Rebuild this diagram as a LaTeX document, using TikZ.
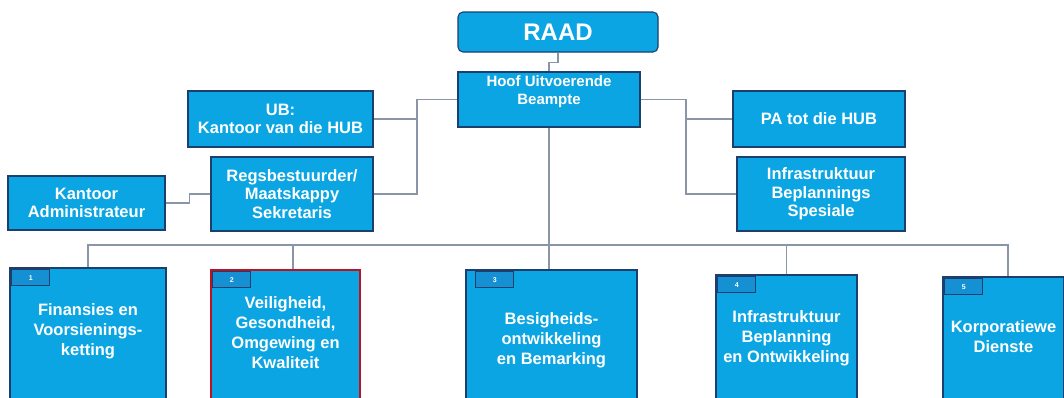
\documentclass[tikz,border=0pt]{standalone}
\usepackage{fontspec}
\setmainfont{Liberation Sans}
\usetikzlibrary{calc}
\definecolor{boxfill}{HTML}{0BA5E3}
\definecolor{boxline}{HTML}{1C3F6E}
\definecolor{tabfill}{HTML}{1590D2}
\definecolor{conn}{HTML}{8A96A8}
\begin{document}
\begin{tikzpicture}[x=1pt,y=1pt,
  box/.style={draw=boxline, fill=boxfill, line width=1.1pt, inner sep=0pt, text=white,
    font=\fontsize{16.5}{18.5}\selectfont\bfseries, align=center},
  bbox/.style={box},
  tabbox/.style={draw=boxline, fill=tabfill, line width=0.8pt, minimum width=38pt, minimum height=16pt,
    inner sep=0pt, text=white, font=\fontsize{7}{8}\selectfont\bfseries, anchor=north west},
  txt/.style={text=white, align=center, font=\fontsize{16.5}{20}\selectfont\bfseries},
  conn/.style={draw=conn, line width=1.2pt}]
\useasboundingbox (0,0) rectangle (1064,-397);
\fill[white] (0,0) rectangle (1064,-397);
\begin{scope}
\clip (0,0) rectangle (1064,-397);
% top
\node[box, rounded corners=5pt, minimum width=200pt, minimum height=40pt,
  font=\fontsize{24}{26}\selectfont\bfseries] (raad) at (558,-32) {RAAD};
\node[box, minimum width=182pt, minimum height=55pt] (hoof) at (549,-99.5) {};
\node[txt, font=\fontsize{15}{18}\selectfont\bfseries] (hooft) at (549,-92) {Hoof Uitvoerende\\Beampte};
\node[box, minimum width=185pt, minimum height=56pt] (ub) at (280.5,-119) {UB:\\Kantoor van die HUB};
\node[box, minimum width=162pt, minimum height=74pt] (regs) at (292,-194) {Regsbestuurder/\\Maatskappy\\Sekretaris};
\node[box, minimum width=157pt, minimum height=54pt] (ka) at (86.5,-203) {Kantoor\\Administrateur};
\node[box, minimum width=172pt, minimum height=56pt] (pa) at (819,-119) {PA tot die HUB};
\node[box, minimum width=168pt, minimum height=74pt] (infs) at (821,-194) {Infrastruktuur\\Beplannings\\Spesiale};
% bottom boxes
\node[bbox, minimum width=156pt, minimum height=134pt] (b1) at (88,-335) {};
\node[bbox, draw=red!70!boxline, minimum width=149pt, minimum height=132pt] (b2) at (285.5,-336) {};
\node[bbox, minimum width=171pt, minimum height=132pt] (b3) at (551.5,-336) {};
\node[bbox, minimum width=141pt, minimum height=127pt] (b4) at (786.5,-338.5) {};
\node[bbox, minimum width=121pt, minimum height=125pt] (b5) at (1003.5,-339.5) {};
\node[txt] (b1t) at (88,-331) {Finansies en\\Voorsienings-\\ketting};
\node[txt] (b2t) at (285.5,-333) {Veiligheid,\\Gesondheid,\\Omgewing en\\Kwaliteit};
\node[txt] (b3t) at (551.5,-340) {Besigheids-\\ontwikkeling\\en Bemarking};
\node[txt] (b4t) at (786.5,-338) {Infrastruktuur\\Beplanning\\en Ontwikkeling};
\node[txt] (b5t) at (1003.5,-337) {Korporatiewe\\Dienste};
\node[tabbox] (t1) at ($(b1.north west)+(2,-2)$) {1};
\node[tabbox] (t2) at ($(b2.north west)+(2,-2)$) {2};
\node[tabbox] (t3) at ($(b3.north west)+(10,-2)$) {3};
\node[tabbox] (t4) at ($(b4.north west)+(2,-2)$) {4};
\node[tabbox] (t5) at ($(b5.north west)+(2,-2)$) {5};
% connectors
\coordinate (lv) at (417,-99.5);
\coordinate (rv) at (686,-99.5);
\coordinate (bus) at (549,-245);
\draw[conn] (raad.south) -- ++(0,-10) -| (hoof.north);
\draw[conn] (hoof.west) -- (lv) |- (ub.east);
\draw[conn] (lv) |- (regs.east);
\draw[conn] (regs.west) -- ++(-21,0) |- (ka.east);
\draw[conn] (hoof.east) -- (rv) |- (pa.west);
\draw[conn] (rv) |- (infs.west);
\draw[conn] (hoof.south) -- (hoof.south |- b3.north);
\draw[conn] (bus) -| (b1.north);
\draw[conn] (bus) -| ($(b2.north)+(7.5,0)$);
\draw[conn] (bus) -| (b4.north);
\draw[conn] (bus) -| ($(b5.north)+(4.5,0)$);
\end{scope}
\end{tikzpicture}
\end{document}
